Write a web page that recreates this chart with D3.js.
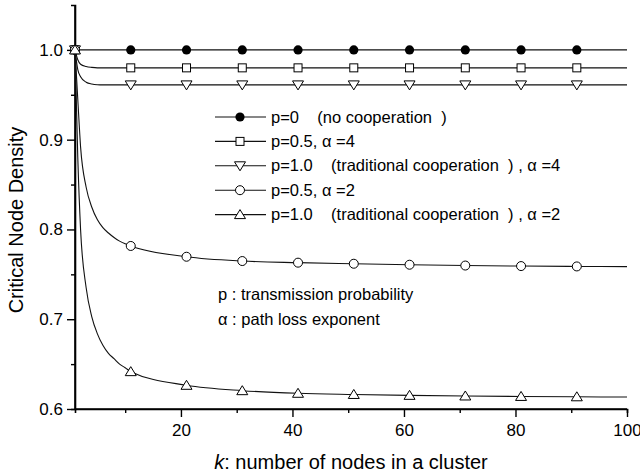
<!DOCTYPE html>
<html>
<head>
<meta charset="utf-8">
<script src="https://cdn.jsdelivr.net/npm/d3@7"></script>
<style>
  body { margin: 0; background: #fff; }
  svg { font-family: Arial, "Liberation Sans", sans-serif; }
  .pre { white-space: pre; }
</style>
</head>
<body>
<script>
// values (k = cluster size)
const kCurve = [1, 1.5, 2, 3, 4, 5, 6, 7, 8, 9, 10, 11, 21, 31, 41, 51, 61, 71, 81, 91, 100];
const p0 = [1, 1, 1, 1, 1, 1, 1, 1, 1, 1, 1, 1, 1, 1, 1, 1, 1, 1, 1, 1, 1];
const p05a4 = [1, 0.989, 0.984, 0.9815, 0.9805, 0.980, 0.980, 0.980, 0.980, 0.980, 0.980, 0.980, 0.980, 0.980, 0.980, 0.980, 0.980, 0.980, 0.980, 0.980, 0.980];
const p10a4 = [1, 0.978, 0.970, 0.964, 0.962, 0.9612, 0.961, 0.961, 0.961, 0.961, 0.961, 0.961, 0.961, 0.961, 0.961, 0.961, 0.961, 0.961, 0.961, 0.961, 0.961];
const p05a2 = [1, 0.945, 0.892, 0.847, 0.825, 0.811, 0.802, 0.796, 0.791, 0.787, 0.784, 0.7816, 0.7696, 0.7648, 0.763, 0.7618, 0.7607, 0.7598, 0.7592, 0.7588, 0.7586];
const p10a2 = [1, 0.88, 0.80, 0.735, 0.703, 0.684, 0.671, 0.662, 0.656, 0.650, 0.646, 0.6416, 0.6264, 0.6204, 0.6175, 0.6162, 0.6152, 0.6145, 0.614, 0.6136, 0.6133];
const kMarks = [1, 11, 21, 31, 41, 51, 61, 71, 81, 91];

const xMajor = [20, 40, 60, 80, 100];
const xMinor = [10, 30, 50, 70, 90];
const yMajor = [0.6, 0.7, 0.8, 0.9, 1.0];
const yMinor = [0.65, 0.75, 0.85, 0.95];

const legendLabels = [
  "p=0    (no cooperation  )",
  "p=0.5, α =4",
  "p=1.0    (traditional cooperation  ) , α =4",
  "p=0.5, α =2",
  "p=1.0    (traditional cooperation  ) , α =2"
];
const notes = ["p : transmission probability", "α : path loss exponent"];

const series = [
  { vals: p0, shape: "dot" },
  { vals: p05a4, shape: "square" },
  { vals: p10a4, shape: "down" },
  { vals: p05a2, shape: "circle" },
  { vals: p10a2, shape: "up" }
];

const W = 640, H = 475;
const svg = d3.select("body").append("svg").attr("width", W).attr("height", H);

const x = d3.scaleLinear().domain([1, 100]).range([75, 627]);
const y = d3.scaleLinear().domain([0.6, 1.05]).range([409, 5]);

// axes
const gx = svg.append("g").attr("transform", "translate(0,409)");
gx.call(d3.axisBottom(x).tickValues(xMajor).tickSize(8).tickPadding(7).tickFormat(d3.format("d")));
gx.append("g").call(d3.axisBottom(x).tickValues(xMinor).tickSize(4).tickFormat(""));
const gy = svg.append("g").attr("transform", "translate(75,0)");
gy.call(d3.axisLeft(y).tickValues(yMajor).tickSize(8).tickPadding(4).tickFormat(d3.format(".1f")));
gy.append("g").call(d3.axisLeft(y).tickValues(yMinor).tickSize(4).tickFormat(""));

svg.selectAll(".domain").attr("stroke", "#000").attr("stroke-width", 1.6);
svg.selectAll(".tick line").attr("stroke", "#000").attr("stroke-width", 1.4);
svg.selectAll(".tick text").attr("font-size", 17).attr("fill", "#000")
  .attr("font-family", "Arial, 'Liberation Sans', sans-serif");
gx.select(".domain").attr("d", "M75,0H627");
gy.select(".domain").attr("d", "M0,5V409");

// marker helper
function marker(g, shape, cx, cy) {
  if (shape === "dot") {
    g.append("circle").attr("cx", cx).attr("cy", cy).attr("r", 4.6).attr("fill", "#000");
  } else if (shape === "circle") {
    g.append("circle").attr("cx", cx).attr("cy", cy).attr("r", 4.5)
      .attr("fill", "#fff").attr("stroke", "#000").attr("stroke-width", 1);
  } else if (shape === "square") {
    g.append("rect").attr("x", cx - 4).attr("y", cy - 4).attr("width", 8).attr("height", 8)
      .attr("fill", "#fff").attr("stroke", "#000").attr("stroke-width", 1);
  } else {
    const s = shape === "up" ? 1 : -1;
    g.append("path")
      .attr("d", `M${cx},${cy - s * 5}L${cx + 5.5},${cy + s * 4}L${cx - 5.5},${cy + s * 4}Z`)
      .attr("fill", "#fff").attr("stroke", "#000").attr("stroke-width", 1);
  }
}

const line = d3.line().x((d, i) => x(kCurve[i])).y(d => y(d)).curve(d3.curveMonotoneX);
const plot = svg.append("g");

series.forEach(s => {
  plot.append("path").datum(s.vals).attr("d", line)
    .attr("fill", "none").attr("stroke", "#111").attr("stroke-width", 1.1);
});
series.forEach(s => {
  const g = plot.append("g");
  kMarks.forEach(k => {
    const v = s.vals[kCurve.indexOf(k)];
    marker(g, s.shape, x(k), y(v));
  });
});

// legend
const leg = svg.append("g");
legendLabels.forEach((t, i) => {
  const cy = 117 + i * 24.4;
  leg.append("line").attr("x1", 215).attr("x2", 266).attr("y1", cy).attr("y2", cy)
    .attr("stroke", "#111").attr("stroke-width", 1.1);
  marker(leg, series[i].shape, 240, cy);
  leg.append("text").attr("class", "pre").attr("x", 271).attr("y", cy + 5.5)
    .attr("font-size", 16.5).text(t);
});

notes.forEach((t, i) => {
  svg.append("text").attr("x", 218).attr("y", 300 + i * 25).attr("font-size", 16.5).text(t);
});

// axis titles
svg.append("text").attr("transform", "translate(23,220) rotate(-90)")
  .attr("text-anchor", "middle").attr("font-size", 20).text("Critical Node Density");
const xt = svg.append("text").attr("x", 351).attr("y", 469)
  .attr("text-anchor", "middle").attr("font-size", 20);
xt.append("tspan").attr("font-style", "italic").text("k");
xt.append("tspan").text(": number of nodes in a cluster");
</script>
</body>
</html>
